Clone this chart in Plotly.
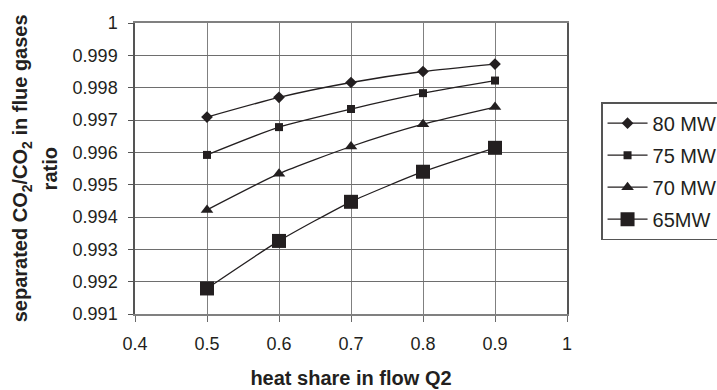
import plotly.graph_objects as go

# heat share in flow Q2
heat_share = [0.5, 0.6, 0.7, 0.8, 0.9]

# separated CO2 / CO2 in flue gases, per boiler load
ratio_80mw = [0.99709, 0.99770, 0.99816, 0.99850, 0.99873]
ratio_75mw = [0.99592, 0.99678, 0.99734, 0.99783, 0.99822]
ratio_70mw = [0.99422, 0.99534, 0.99618, 0.99687, 0.99740]
ratio_65mw = [0.99179, 0.99326, 0.99447, 0.99540, 0.99614]

series_names = ["80 MW", "75 MW", "70 MW", "65MW"]

y_ticks = [0.991, 0.992, 0.993, 0.994, 0.995, 0.996, 0.997, 0.998, 0.999, 1.0]
y_tick_text = ["0.991", "0.992", "0.993", "0.994", "0.995", "0.996", "0.997", "0.998", "0.999", "1"]
x_ticks = [0.4, 0.5, 0.6, 0.7, 0.8, 0.9, 1.0]
x_tick_text = ["0.4", "0.5", "0.6", "0.7", "0.8", "0.9", "1"]

y_title_lines = ["separated CO<sub>2</sub>/CO<sub>2</sub> in flue gases", "ratio"]

FONT = "Liberation Sans, Arial, sans-serif"
INK = "#231f20"

styles = [
    dict(symbol="diamond", size=9),
    dict(symbol="square", size=8),
    dict(symbol="triangle-up", size=11),
    dict(symbol="square", size=14),
]

fig = go.Figure()
for i, (name, ys, st) in enumerate(zip(series_names,
                                       [ratio_80mw, ratio_75mw, ratio_70mw, ratio_65mw],
                                       styles)):
    fig.add_trace(go.Scatter(
        x=heat_share, y=ys, name=name, mode="lines+markers",
        line=dict(color=INK, width=1.3, shape="spline", smoothing=0.6),
        marker=dict(color=INK, symbol=st["symbol"], size=st["size"]),
        legendgroup=f"g{i}",
    ))

# two-line rotated y-axis title, lines set a little wider apart than default
for text, xpos in zip(y_title_lines, [-0.262, -0.197]):
    fig.add_annotation(
        text=f"<b>{text}</b>", textangle=-90,
        xref="paper", yref="paper", x=xpos, y=0.5,
        xanchor="center", yanchor="middle", showarrow=False,
        font=dict(family=FONT, size=20, color=INK),
    )

fig.update_layout(
    width=717, height=390,
    margin=dict(l=135, r=150, t=23, b=76, autoexpand=False),
    paper_bgcolor="white", plot_bgcolor="white",
    font=dict(family=FONT, size=18, color=INK),
    showlegend=True,
    legend=dict(
        x=1.0795, y=0.727, xanchor="left", yanchor="top",
        bordercolor="#555555", borderwidth=1.2, bgcolor="white",
        font=dict(family=FONT, size=20, color=INK),
        tracegroupgap=3, traceorder="grouped",
        itemwidth=40, entrywidth=130,
    ),
)

fig.update_xaxes(
    range=[0.4, 1.0], tickvals=x_ticks, ticktext=x_tick_text,
    showgrid=True, gridcolor="#808080", gridwidth=1,
    showline=True, linecolor="#808080", linewidth=1.5, mirror=True,
    ticks="outside", ticklen=6, tickcolor="#6a6a6a",
    ticklabelstandoff=7,
    zeroline=False,
    tickfont=dict(family=FONT, size=18, color=INK),
    title=dict(text="<b>heat share in flow Q2</b>", standoff=18,
               font=dict(family=FONT, size=20, color=INK)),
)
fig.update_yaxes(
    range=[0.991, 1.0], tickvals=y_ticks, ticktext=y_tick_text,
    showgrid=True, gridcolor="#6e6e6e", gridwidth=1,
    showline=True, linecolor="#555555", linewidth=1.5, mirror=True,
    ticks="outside", ticklen=5, tickcolor="#555555",
    ticklabelstandoff=7,
    zeroline=False,
    tickfont=dict(family=FONT, size=18, color=INK),
)

fig.write_html("out.html")
